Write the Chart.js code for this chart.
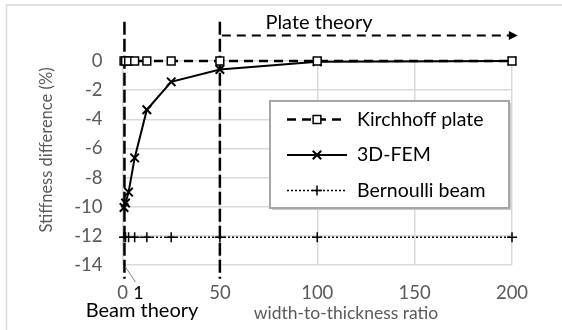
<!DOCTYPE html>
<html>
<head>
<meta charset="utf-8">
<script src="https://cdn.jsdelivr.net/npm/chart.js@4/dist/chart.umd.min.js"></script>
<style>
  body { margin: 0; background: #fff; }
  #wrap { width: 562px; height: 330px; }
</style>
</head>
<body>
<div id="wrap"><canvas id="chart"></canvas></div>
<script>
// width-to-thickness ratios (halving from 200)
const ratios = [0.78, 1.56, 3.13, 6.25, 12.5, 25, 50, 100, 200];
const kirchhoff = [0, 0, 0, 0, 0, 0, 0, 0, 0];
const fem = [-10.05, -9.75, -9.0, -6.65, -3.35, -1.43, -0.58, -0.05, 0];
const bernoulli = [-12.1, -12.1, -12.1, -12.1, -12.1, -12.1, -12.1, -12.1, -12.1];

const xTicks = [0, 50, 100, 150, 200];
const yTicks = [0, -2, -4, -6, -8, -10, -12, -14];

// regime guides
const beamX = 1, plateX = 50;
const guideTop = 2.7, guideBottom = -14.95;
const arrowY = 1.75, arrowStart = 51, arrowEnd = 203;

const FONT = "Lato, 'Open Sans', sans-serif";
const GREY = "#595959";
Chart.defaults.font.family = FONT;

function pts(ys) {
  return ratios.map((x, i) => ({ x: x, y: ys[i] }));
}

const series = [
  { label: "Kirchhoff plate", data: pts(kirchhoff), dash: [9, 6], width: 2.5,
    style: "rect", radius: 5.5, bw: 1.5 },
  { label: "3D-FEM", data: pts(fem), dash: [], width: 2,
    style: "crossRot", radius: 6, bw: 2 },
  { label: "Bernoulli beam", data: pts(bernoulli), dash: [2, 2], width: 1.5,
    style: "cross", radius: 5, bw: 1.5 },
];

const datasets = series.map(s => ({
  label: s.label,
  data: s.data,
  borderColor: "#000",
  backgroundColor: "#fff",
  borderWidth: s.width,
  borderDash: s.dash,
  pointStyle: s.style,
  pointRadius: s.radius,
  pointBorderWidth: s.bw,
  pointBorderColor: "#000",
  pointBackgroundColor: "#fff",
  showLine: true,
  tension: 0,
  clip: false,
}));

function guide(points, dash, width) {
  return {
    label: "guide",
    data: points,
    borderColor: "#000",
    borderWidth: width,
    borderDash: dash,
    pointRadius: 0,
    showLine: true,
    clip: false,
  };
}
datasets.push(guide([{ x: beamX, y: guideTop }, { x: beamX, y: guideBottom }], [13, 4], 2.5));
datasets.push(guide([{ x: plateX, y: guideTop }, { x: plateX, y: guideBottom }], [13, 4], 2.5));
datasets.push(guide([{ x: arrowStart, y: arrowY }, { x: arrowEnd - 3, y: arrowY }], [9, 6], 2));

const extras = {
  id: "extras",
  afterDraw(chart) {
    const ctx = chart.ctx;
    const xs = chart.scales.x, ys = chart.scales.y;
    ctx.save();

    // outer frame (top and left edge)
    ctx.strokeStyle = "#d9d9d9";
    ctx.lineWidth = 1.5;
    ctx.beginPath();
    ctx.moveTo(562, 5);
    ctx.lineTo(6.5, 5);
    ctx.lineTo(6.5, 330);
    ctx.stroke();

    // arrow head
    const ax = xs.getPixelForValue(arrowEnd), ay = ys.getPixelForValue(arrowY);
    ctx.fillStyle = "#000";
    ctx.beginPath();
    ctx.moveTo(ax, ay);
    ctx.lineTo(ax - 9, ay - 4.5);
    ctx.lineTo(ax - 9, ay + 4.5);
    ctx.closePath();
    ctx.fill();

    // "1" label with leader line
    const bx = xs.getPixelForValue(beamX);
    ctx.strokeStyle = "#7f7f7f";
    ctx.lineWidth = 1;
    ctx.beginPath();
    ctx.moveTo(bx + 1, ys.bottom + 2);
    ctx.lineTo(bx + 11, ys.bottom + 17);
    ctx.stroke();
    ctx.fillStyle = "#000";
    ctx.font = "18px " + FONT;
    ctx.textAlign = "center";
    ctx.textBaseline = "middle";
    ctx.fillText("1", bx + 14, 293);

    // regime labels
    ctx.font = "20px " + FONT;
    ctx.fillText("Beam theory", 142, 311);
    ctx.fillText("Plate theory", 319, 23);

    // axis titles
    ctx.fillStyle = GREY;
    ctx.font = "17.5px " + FONT;
    ctx.fillText("width-to-thickness ratio", 346, 313);
    ctx.save();
    ctx.translate(47, 150);
    ctx.rotate(-Math.PI / 2);
    ctx.font = "16.5px " + FONT;
    ctx.fillText("Stiffness difference (%)", 0, 0);
    ctx.restore();

    // legend box
    const L = 270, T = 101, R = 509, B = 208;
    ctx.fillStyle = "#c9c9c9";
    ctx.fillRect(L + 2, T + 2, R - L, B - T);
    ctx.fillStyle = "#fff";
    ctx.fillRect(L, T, R - L, B - T);
    ctx.strokeStyle = "#a6a6a6";
    ctx.lineWidth = 2;
    ctx.strokeRect(L, T, R - L, B - T);

    const rows = [119.5, 155, 190.5];
    series.forEach((s, i) => {
      const y = rows[i];
      ctx.strokeStyle = "#000";
      ctx.lineWidth = s.width;
      ctx.setLineDash(s.dash);
      ctx.beginPath();
      ctx.moveTo(287, y);
      ctx.lineTo(347, y);
      ctx.stroke();
      ctx.setLineDash([]);
      ctx.fillStyle = "#fff";
      ctx.lineWidth = s.bw;
      Chart.helpers.drawPoint(ctx, { pointStyle: s.style, radius: s.radius, rotation: 0, borderWidth: s.bw }, 317, y);
      ctx.fillStyle = "#000";
      ctx.font = "19.5px " + FONT;
      ctx.textAlign = "left";
      ctx.fillText(s.label, 357, y);
    });

    ctx.restore();
  }
};

new Chart(document.getElementById("chart"), {
  type: "scatter",
  data: { datasets: datasets },
  options: {
    responsive: true,
    maintainAspectRatio: false,
    animation: false,
    layout: { padding: { left: 40, right: 50, top: 61, bottom: 0 } },
    plugins: { legend: { display: false }, tooltip: { enabled: false } },
    scales: {
      x: {
        type: "linear",
        min: 0, max: 200,
        afterBuildTicks: s => { s.ticks = xTicks.map(v => ({ value: v })); },
        afterFit: s => { s.height = 65; },
        grid: { color: "#d9d9d9", lineWidth: 1.5, drawTicks: false },
        border: { display: false },
        ticks: { color: GREY, font: { size: 18.5 }, padding: 17, maxRotation: 0 },
      },
      y: {
        type: "linear",
        min: -14, max: 0,
        afterBuildTicks: s => { s.ticks = yTicks.map(v => ({ value: v })); },
        afterFit: s => { s.width = 82.5; },
        grid: { color: "#d9d9d9", lineWidth: 1.5, drawTicks: false },
        border: { display: false },
        ticks: { color: GREY, font: { size: 18.5 }, padding: 20 },
      },
    },
  },
  plugins: [extras],
});
</script>
</body>
</html>
